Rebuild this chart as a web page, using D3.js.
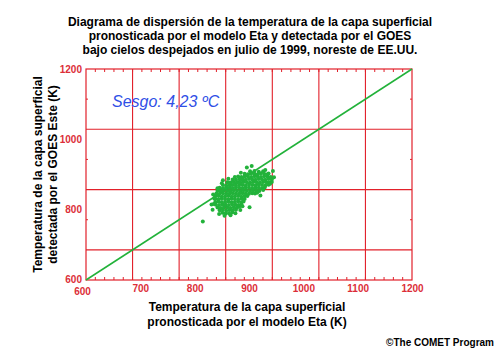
<!DOCTYPE html>
<html><head><meta charset="utf-8">
<script src="https://cdn.jsdelivr.net/npm/d3@7"></script>
<style>body{margin:0;background:#fff}svg{display:block}</style>
</head><body><svg id="c" width="500" height="350"></svg>
<script>
const titleLines = [
  "Diagrama de dispersión de la temperatura de la capa superficial",
  "pronosticada por el modelo Eta y detectada por el GOES",
  "bajo cielos despejados en julio de 1999, noreste de EE.UU."
];
const xTitleLines = ["Temperatura de la capa superficial", "pronosticada por el modelo Eta (K)"];
const yTitleLines = ["Temperatura de la capa superficial", "detectada por el GOES Este (K)"];
const biasLabel = "Sesgo: 4,23 ºC";
const creditLabel = "©The COMET Program";
const xTickValues = [600, 700, 800, 900, 1000, 1100, 1200];
const yTickValues = [600, 800, 1000, 1200];
const gridX = [685.7, 771.4, 857.1, 942.9, 1028.6, 1114.3];
const gridY = [685.7, 857.1, 1028.6];
const sideTickY = [771.4, 942.9, 1114.3];
const oneToOneLine = [[600, 600], [1200, 1200]];
const scatterPoints = [
[851,791],[857,789],[863,790],[869,792],
[846,798],[852,800],[858,797],[864,799],[870,798],[876,800],
[842,806],[848,805],[854,807],[860,806],[866,805],[872,807],[878,806],[882,808],
[839,814],[845,813],[851,815],[857,814],[863,813],[869,815],[875,814],[881,813],[886,815],
[838,822],[844,823],[850,821],[856,822],[862,823],[868,821],[874,822],[880,823],[886,821],[890,823],
[838,830],[844,829],[850,831],[856,830],[862,829],[868,831],[874,830],[880,829],[886,831],[892,830],
[838,838],[844,839],[850,837],[856,838],[862,839],[868,837],[874,838],[880,839],[886,837],[892,838],[897,839],
[840,846],[846,845],[852,847],[858,846],[864,845],[870,847],[876,846],[882,845],[888,847],[894,846],[900,845],[906,847],[911,846],
[842,854],[848,853],[854,855],[860,854],[866,853],[872,855],[878,854],[884,853],[890,855],[896,854],[902,853],[908,855],[914,854],[919,853],
[846,862],[852,861],[858,863],[864,862],[870,861],[876,863],[882,862],[888,861],[894,863],[900,862],[906,861],[912,863],[918,862],[924,861],[929,863],
[852,870],[858,869],[864,871],[870,870],[876,869],[882,871],[888,870],[894,869],[900,871],[906,870],[912,869],[918,871],[924,870],[930,869],[936,871],
[860,878],[866,877],[872,879],[878,878],[884,877],[890,879],[896,878],[902,877],[908,879],[914,878],[920,877],[926,879],[932,878],[938,877],[942,879],
[870,886],[876,885],[882,887],[888,886],[894,885],[900,887],[906,886],[912,885],[918,887],[924,886],[930,885],[936,887],[942,886],
[880,894],[886,893],[892,895],[898,894],[904,893],[910,895],[916,894],[922,893],[928,895],[934,894],[940,893],
[892,902],[898,901],[904,903],[910,902],[916,901],[922,903],[928,902],[934,901],
[902,909],[910,910],[918,908],[926,909],
[815,766],[831,815],[835,816],[901,807],[921,840],[896,920],[905,924],[885,905],[852,884],[850,875],
[842,861],[946,892],[944,910],[936,903],[939,874],[833,800],[845,788],[875,790],[930,913],
[884,799],[888,810],[855,783],[866,784],[834,843],[836,832],[862,888],[874,893],[915,848],[926,856]
];

const RED = "#e2202a", LABEL_RED = "#dc2e38", GREEN = "#22b23a", BLUE = "#2f4fe6";
const svg = d3.select("#c");
const x = d3.scaleLinear().domain([600, 1200]).range([86, 412]);
const y = d3.scaleLinear().domain([600, 1200]).range([280, 69]);

// title
svg.append("g").selectAll("text").data(titleLines).join("text")
  .attr("x", 250).attr("y", (d, i) => 26 + i * 14)
  .attr("text-anchor", "middle")
  .style("font", "bold 12px 'Liberation Sans', Arial, sans-serif").attr("fill", "#000")
  .text(d => d);

// grid
const g = svg.append("g");
g.selectAll("line.gx").data(gridX).join("line").attr("class", "gx")
  .attr("x1", d => x(d)).attr("x2", d => x(d)).attr("y1", y(600)).attr("y2", y(1200))
  .attr("stroke", RED).attr("stroke-width", 1.1);
g.selectAll("line.gy").data(gridY).join("line").attr("class", "gy")
  .attr("y1", d => y(d)).attr("y2", d => y(d)).attr("x1", x(600)).attr("x2", x(1200))
  .attr("stroke", RED).attr("stroke-width", 1.1);

// minor ticks
const minorX = d3.range(600 + 600 / 35, 1200, 600 / 35);
g.selectAll("line.mb").data(minorX).join("line").attr("class", "mb")
  .attr("x1", d => x(d)).attr("x2", d => x(d)).attr("y1", y(600)).attr("y2", y(600) - 3)
  .attr("stroke", RED);
g.selectAll("line.mt").data(minorX).join("line").attr("class", "mt")
  .attr("x1", d => x(d)).attr("x2", d => x(d)).attr("y1", y(1200)).attr("y2", y(1200) + 3)
  .attr("stroke", RED);
g.selectAll("line.ml").data(sideTickY).join("line").attr("class", "ml")
  .attr("y1", d => y(d)).attr("y2", d => y(d)).attr("x1", x(600)).attr("x2", x(600) + 2)
  .attr("stroke", RED);
g.selectAll("line.mr").data(sideTickY).join("line").attr("class", "mr")
  .attr("y1", d => y(d)).attr("y2", d => y(d)).attr("x1", x(1200)).attr("x2", x(1200) - 2)
  .attr("stroke", RED);

// frame
svg.append("rect").attr("x", x(600)).attr("y", y(1200))
  .attr("width", x(1200) - x(600)).attr("height", y(600) - y(1200))
  .attr("fill", "none").attr("stroke", RED).attr("stroke-width", 1.2);

// axes labels
const xAxis = svg.append("g").attr("transform", `translate(0,${y(600)})`)
  .call(d3.axisBottom(x).tickValues(xTickValues).tickSize(0).tickPadding(5).tickFormat(d3.format("d")));
const yAxis = svg.append("g").attr("transform", `translate(${x(600)},0)`)
  .call(d3.axisLeft(y).tickValues(yTickValues).tickSize(0).tickPadding(4).tickFormat(d3.format("d")));
[xAxis, yAxis].forEach(a => {
  a.select(".domain").remove();
  a.selectAll("text").style("font", "bold 10px 'Liberation Sans', Arial, sans-serif").attr("fill", LABEL_RED);
});
xAxis.selectAll(".tick text").filter(d => d === 600).attr("dx", -4).attr("y", 7.5);
yAxis.selectAll(".tick text").filter(d => d === 600).attr("dy", "0.2em");

// one-to-one line
svg.append("path").datum(oneToOneLine)
  .attr("d", d3.line().x(d => x(d[0])).y(d => y(d[1])))
  .attr("stroke", GREEN).attr("stroke-width", 1.5).attr("fill", "none");

// scatter
svg.append("g").selectAll("circle").data(scatterPoints).join("circle")
  .attr("cx", d => x(d[0])).attr("cy", d => y(d[1])).attr("r", 2).attr("fill", GREEN);

// bias
svg.append("text").attr("x", 112).attr("y", 107)
  .style("font", "italic 16px 'Liberation Sans', Arial, sans-serif").attr("fill", BLUE).text(biasLabel);

// axis titles
svg.append("g").selectAll("text").data(xTitleLines).join("text")
  .attr("x", 247).attr("y", (d, i) => 311 + i * 14.5).attr("text-anchor", "middle")
  .style("font", "bold 12px 'Liberation Sans', Arial, sans-serif").attr("fill", "#000").text(d => d);
svg.append("g").selectAll("text").data(yTitleLines).join("text")
  .attr("transform", (d, i) => `translate(${42 + i * 15},174.5) rotate(-90)`).attr("text-anchor", "middle")
  .style("font", "bold 12px 'Liberation Sans', Arial, sans-serif").attr("fill", "#000").text(d => d);

// credit
svg.append("text").attr("x", 494).attr("y", 345.5).attr("text-anchor", "end")
  .style("font", "bold 10px 'Liberation Sans', Arial, sans-serif").attr("fill", "#000").text(creditLabel);
</script>
</body></html>
